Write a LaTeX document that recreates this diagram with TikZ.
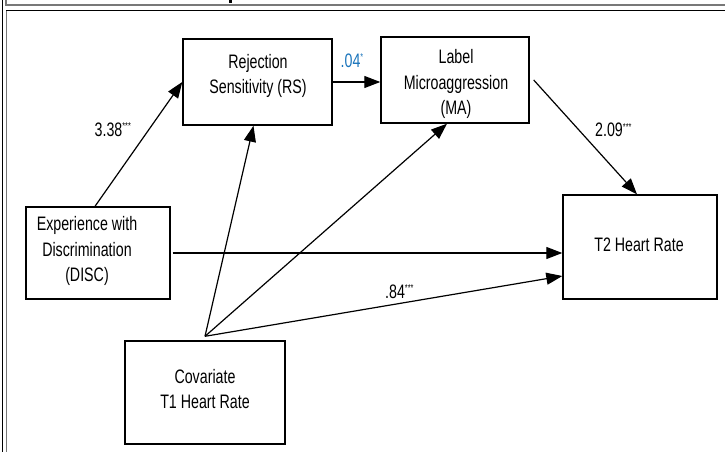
\documentclass[tikz,border=0pt]{standalone}
\usepackage{fontspec}
\setmainfont{Liberation Sans}[FakeStretch=0.73]
\usetikzlibrary{arrows.meta}
\definecolor{coefblue}{RGB}{27,117,188}
\definecolor{framegray}{RGB}{120,120,120}
\begin{document}
\begin{tikzpicture}[x=1pt,y=-1pt,
  box/.style={draw, line width=1.4pt, rectangle, inner sep=0pt},
  lbl/.style={font=\fontsize{19.5}{25.5}\selectfont, align=center, inner sep=0pt},
  coef/.style={font=\fontsize{19.5}{20}\selectfont, inner sep=0pt, anchor=base west},
  conn/.style={line width=1.2pt, -{Triangle[length=16pt,width=12pt]}},
  plain/.style={line width=1.2pt}]
\useasboundingbox (0,0) rectangle (725,452);
\fill[white] (0,0) rectangle (725,452);
% frame
\draw[black, line width=1pt] (2.3,0) -- (2.3,452);
\draw[framegray, line width=1.2pt] (6,0) -- (6,5) -- (725,5);
\draw[black, line width=1.3pt] (6.2,10.5) -- (725,10.5);
\draw[framegray, line width=1.2pt] (6.7,11) -- (6.7,452);
\fill (229,0) rectangle (232,3);
% boxes
\node[box, minimum width=149pt, minimum height=86pt] (rs) at (257.5,82) {};
\node[box, minimum width=148pt, minimum height=86pt] (ma) at (455,80) {};
\node[box, minimum width=154pt, minimum height=104pt] (t2) at (640,247) {};
\node[box, minimum width=144pt, minimum height=92pt] (disc) at (98,253) {};
\node[box, minimum width=160pt, minimum height=103pt] (cov) at (205,392.5) {};
% texts
\node[lbl] (rst) at (258,76) {Rejection\\Sensitivity (RS)};
\node[lbl] (mat) at (456,84) {Label\\Microaggression\\(MA)};
\node[lbl] (t2t) at (639,245) {T2 Heart Rate};
\node[lbl] (disct) at (87,251) {Experience with\\Discrimination\\(DISC)};
\node[lbl] (covt) at (205,389) {Covariate\\T1 Heart Rate};
% connectors
\coordinate (apex) at ([yshift=4pt]cov.north);
\draw[conn] ([xshift=-3pt]disc.north) -- (rs.west);
\draw[conn] (rs.east) -- (rs.east -| ma.west);
\draw[conn] ([xshift=4pt]ma.east) -- ([xshift=-3pt]t2.north);
\draw[conn] ([xshift=2pt]disc.east) -- (disc.east -| t2.west);
\draw[conn] (apex) -- ([yshift=-29pt]t2.west);
\draw[conn] (apex) -- ([xshift=-4pt]rs.south);
\draw[conn] (apex) -- ([xshift=-8pt]ma.south);
% coefficients
\node[coef] (c1) at (94.5,136) {3.38\raisebox{6.5pt}{\fontsize{10}{10}\selectfont ***}};
\node[coef, text=coefblue] (c2) at (340.5,67) {.04\raisebox{6.5pt}{\fontsize{10}{10}\selectfont *}};
\node[coef] (c3) at (595,136.5) {2.09\raisebox{6.5pt}{\fontsize{10}{10}\selectfont ***}};
\node[coef] (c4) at (385,298) {.84\raisebox{6.5pt}{\fontsize{10}{10}\selectfont ***}};
\end{tikzpicture}
\end{document}
